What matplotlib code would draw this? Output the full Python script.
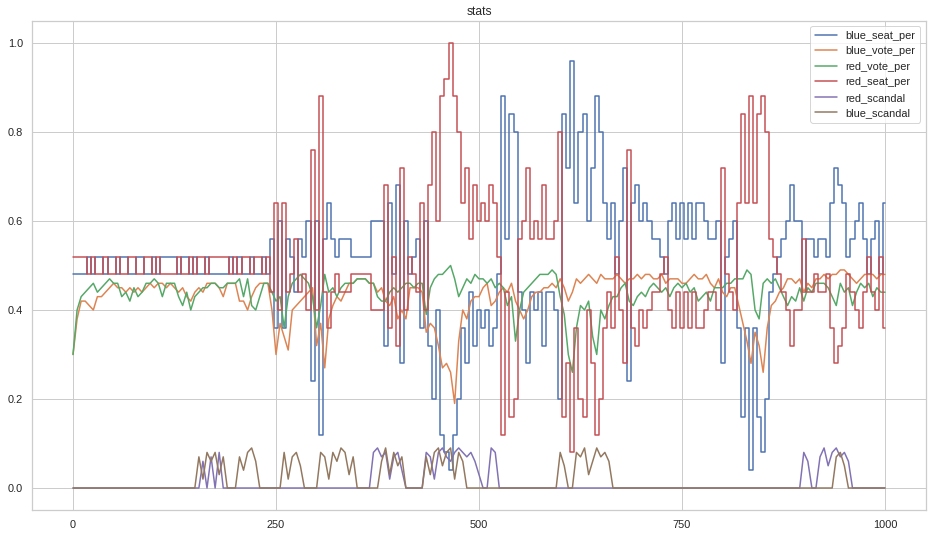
import numpy as np
import matplotlib
matplotlib.use("Agg")
import matplotlib.pyplot as plt
import seaborn as sns

# one sample every 5 steps, 0..1000
steps = np.arange(0, 1001, 5)

blue_seat_per = [
    .48, .48, .48, .48, .52, .48, .52, .52, .48, .52, .52, .48, .52, .52, .48, .48, .52, .52, .48, .48,
    .52, .48, .52, .52, .52, .52, .48, .52, .52, .48, .52, .48, .48, .52, .48, .48, .48, .48, .48, .52,
    .48, .52, .48, .48, .52, .48, .48, .52, .48, .56, .36, .60, .36, .56, .52, .44, .56, .52, .60, .24,
    .60, .12, .56, .64, .56, .52, .56, .56, .56, .52, .52, .52, .52, .52, .60, .60, .60, .32, .64, .48,
    .68, .28, .60, .48, .52, .56, .36, .60, .32, .20, .40, .12, .08, .04, .12, .20, .36, .28, .44, .32,
    .40, .36, .40, .32, .36, .48, .88, .56, .84, .80, .44, .40, .28, .44, .40, .44, .32, .44, .44, .40,
    .20, .84, .72, .96, .64, .80, .84, .60, .72, .88, .80, .64, .56, .64, .48, .60, .72, .24, .64, .68,
    .60, .64, .60, .56, .56, .52, .48, .60, .64, .56, .64, .56, .64, .56, .64, .64, .60, .56, .56, .60,
    .28, .52, .56, .60, .36, .16, .36, .04, .36, .16, .08, .20, .44, .48, .52, .56, .60, .68, .60, .60,
    .44, .56, .56, .52, .56, .56, .52, .64, .72, .68, .64, .52, .56, .60, .64, .56, .48, .56, .60, .48,
    .64,
]

blue_vote_per = [
    .30, .38, .42, .42, .41, .40, .43, .43, .44, .45, .46, .45, .45, .44, .45, .44, .45, .44, .45, .46,
    .45, .46, .46, .45, .46, .45, .44, .45, .43, .42, .44, .45, .44, .46, .46, .46, .45, .43, .46, .46,
    .46, .42, .42, .40, .43, .45, .46, .46, .46, .40, .30, .37, .34, .31, .40, .41, .42, .43, .44, .45,
    .32, .37, .27, .38, .41, .43, .42, .44, .46, .46, .47, .47, .47, .46, .46, .44, .45, .42, .41, .43,
    .38, .40, .38, .45, .45, .45, .44, .35, .37, .36, .32, .27, .28, .26, .19, .33, .40, .38, .42, .43,
    .43, .45, .46, .41, .42, .44, .45, .44, .46, .42, .40, .38, .40, .43, .44, .44, .45, .45, .46, .45,
    .47, .45, .42, .44, .47, .46, .47, .48, .47, .46, .48, .47, .47, .47, .48, .47, .46, .47, .47, .48,
    .47, .48, .48, .47, .47, .48, .46, .47, .47, .47, .46, .46, .47, .48, .47, .47, .48, .46, .45, .47,
    .44, .43, .45, .45, .41, .37, .33, .28, .35, .32, .26, .36, .41, .42, .44, .45, .47, .47, .46, .47,
    .44, .46, .45, .47, .47, .48, .47, .48, .48, .49, .49, .48, .47, .46, .47, .48, .48, .48, .47, .48,
    .48,
]

red_vote_per = [
    .30, .40, .43, .44, .45, .46, .44, .45, .46, .47, .46, .46, .43, .44, .42, .45, .43, .44, .46, .46,
    .47, .46, .43, .46, .46, .46, .43, .41, .44, .40, .43, .44, .45, .45, .46, .46, .45, .45, .46, .46,
    .46, .47, .43, .47, .41, .40, .43, .46, .46, .44, .42, .43, .36, .43, .46, .47, .48, .47, .46, .43,
    .36, .41, .48, .44, .45, .43, .45, .46, .46, .46, .47, .47, .47, .46, .46, .43, .42, .42, .44, .45,
    .44, .45, .46, .46, .45, .46, .46, .39, .45, .47, .48, .48, .49, .50, .47, .43, .45, .47, .46, .48,
    .47, .47, .46, .47, .45, .46, .45, .41, .43, .33, .40, .44, .45, .46, .47, .48, .48, .48, .49, .48,
    .43, .39, .30, .26, .36, .41, .40, .42, .34, .30, .40, .38, .41, .43, .43, .45, .46, .42, .41, .43,
    .44, .43, .45, .46, .45, .44, .45, .43, .45, .46, .45, .46, .44, .45, .42, .43, .44, .42, .45, .45,
    .45, .46, .46, .47, .47, .47, .49, .48, .40, .38, .46, .47, .46, .47, .45, .43, .41, .43, .42, .45,
    .42, .45, .44, .46, .46, .46, .45, .43, .41, .46, .44, .45, .41, .44, .46, .45, .46, .43, .45, .44,
    .44,
]

red_seat_per = [
    .52, .52, .52, .52, .48, .52, .48, .48, .52, .48, .48, .52, .48, .48, .52, .52, .48, .48, .52, .52,
    .48, .52, .48, .48, .48, .48, .52, .48, .48, .52, .48, .52, .52, .48, .52, .52, .52, .52, .52, .48,
    .52, .48, .52, .52, .48, .52, .52, .48, .52, .44, .64, .40, .64, .44, .48, .56, .44, .48, .40, .76,
    .40, .88, .44, .36, .44, .48, .44, .44, .44, .48, .48, .48, .48, .48, .40, .40, .40, .68, .36, .52,
    .32, .72, .40, .52, .48, .44, .64, .40, .68, .80, .60, .88, .92, 1.00, .88, .80, .64, .72, .56, .68,
    .60, .64, .60, .68, .64, .52, .12, .44, .16, .20, .56, .60, .72, .56, .60, .56, .68, .56, .56, .60,
    .80, .16, .28, .08, .36, .20, .16, .40, .28, .12, .20, .36, .44, .36, .52, .40, .28, .76, .36, .32,
    .40, .36, .40, .44, .44, .48, .52, .40, .36, .44, .36, .44, .36, .44, .36, .36, .40, .44, .44, .40,
    .72, .48, .44, .40, .64, .84, .64, .88, .64, .84, .88, .80, .56, .52, .48, .44, .40, .32, .40, .40,
    .56, .44, .44, .48, .44, .44, .48, .36, .28, .32, .36, .48, .44, .40, .36, .44, .52, .44, .40, .52,
    .36,
]

# scandal series are zero except at these steps
red_scandal_steps = [160, 170, 180,
                     370, 375, 380, 385, 390, 395, 400, 405,
                     435, 440, 445, 450, 455, 460, 465, 470, 475, 480, 485, 490, 495, 500,
                     515, 520, 900, 905,
                     920, 925, 930, 935, 940, 945, 950, 955]
red_scandal_vals = [.06, .07, .08,
                    .08, .09, .07, .08, .02, .07, .08, .04,
                    .08, .07, .02, .08, .09, .07, .06, .08, .09, .08, .07, .08, .06, .03,
                    .09, .08, .08, .06,
                    .07, .09, .05, .08, .09, .07, .08, .06]

blue_scandal_steps = [155, 160, 165, 170, 175, 180, 185,
                      205, 210, 215, 220, 225,
                      260, 265, 270, 275, 280,
                      305, 310, 315, 320, 325, 330, 335, 340, 345,
                      380, 385, 390, 395, 400, 405,
                      435, 440, 445, 450, 455, 460, 465, 470, 475, 480,
                      600, 605,
                      620, 625, 630, 635, 640, 645, 650, 655, 660,
                      940, 945, 950]
blue_scandal_vals = [.07, .02, .08, .06, .08, .03, .07,
                     .07, .04, .08, .09, .06,
                     .08, .02, .07, .08, .05,
                     .08, .07, .02, .08, .06, .09, .08, .03, .07,
                     .06, .09, .03, .08, .05, .07,
                     .07, .03, .08, .09, .05, .08, .09, .02, .08, .06,
                     .08, .05,
                     .08, .07, .09, .03, .06, .09, .07, .08, .06,
                     .07, .08, .05]

red_scandal = np.zeros(len(steps))
red_scandal[np.searchsorted(steps, red_scandal_steps)] = red_scandal_vals
blue_scandal = np.zeros(len(steps))
blue_scandal[np.searchsorted(steps, blue_scandal_steps)] = blue_scandal_vals

# seat shares move in whole seats, so they are drawn as steps
series = [
    ("blue_seat_per", blue_seat_per, "steps-mid"),
    ("blue_vote_per", blue_vote_per, "default"),
    ("red_vote_per", red_vote_per, "default"),
    ("red_seat_per", red_seat_per, "steps-mid"),
    ("red_scandal", red_scandal, "default"),
    ("blue_scandal", blue_scandal, "default"),
]
for name, vals, _ in series:
    assert len(vals) == len(steps), (name, len(vals))

sns.set_theme(style="whitegrid")
plt.rcParams['font.family'] = ['Liberation Sans', 'DejaVu Sans']

fig = plt.figure(figsize=(932 / 72, 537 / 72), dpi=72)
ax = fig.add_axes([0.0348, 0.0498, 0.9583, 0.9116])

for name, vals, ds in series:
    ax.plot(steps, vals, label=name, drawstyle=ds)

ax.set_xticks([0, 250, 500, 750, 1000])
ax.set_title("stats")
ax.legend(loc="upper right")

fig.savefig("out.png", dpi=72)
